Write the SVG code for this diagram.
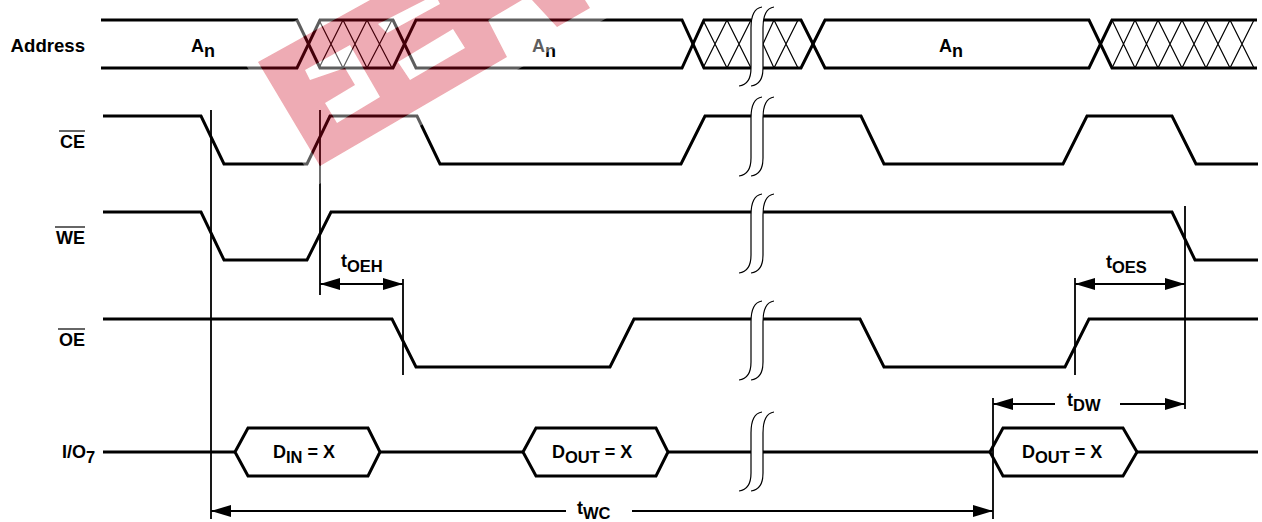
<svg xmlns="http://www.w3.org/2000/svg" width="1262" height="522" viewBox="0 0 1262 522">
<style>
text{font-family:"Liberation Sans",Arial,sans-serif;font-weight:700;font-size:18px;fill:#000}
.r{text-anchor:end}
.sub{font-size:16.5px}
.sig{fill:none;stroke:#000;stroke-width:3;stroke-linejoin:miter}
.hatch{fill:none;stroke:#000;stroke-width:1.2}
.hex{fill:#fff;stroke:#000;stroke-width:3}
.ref{fill:none;stroke:#000;stroke-width:1.8}
.arr{fill:none;stroke:#000;stroke-width:1.8;marker-end:url(#ah)}
.ov{stroke:#000;stroke-width:1.2}
.brkfill{fill:#fff;stroke:none}
.brk{fill:none;stroke:#000;stroke-width:1.2}
</style>
<defs>
<marker id="ah" markerUnits="userSpaceOnUse" markerWidth="20" markerHeight="14" refX="20" refY="6" orient="auto"><path d="M0 0L20 6L0 12Z" fill="#000"/></marker>
<filter id="soft" x="-5%" y="-5%" width="110%" height="110%"><feGaussianBlur stdDeviation="0.5"/></filter>
<g id="brk">
<path class="brkfill" d="M762 7C755 8 751 14 751 28V68C751 80 747 85 739 86H751C759 85 763 80 763 68V28C763 14 767 8 774 7Z"/>
<path class="brk" d="M762 7C755 8 751 14 751 28V68C751 80 747 85 739 86"/>
<path class="brk" d="M774 7C767 8 763 14 763 28V68C763 80 759 85 751 86"/>
</g>
</defs>
<rect width="1262" height="522" fill="#fff"/>

<g id="address">
<path class="hatch" d="M319 20L343 68M343 20L319 68M343 20L367 68M367 20L343 68M367 20L392 68M392 20L367 68"/>
<path class="hatch" d="M703 20L727 68M727 20L703 68M727 20L751 68M751 20L727 68M763 44L774 20M763 44L774 68M774 20L798 68M798 20L774 68"/>
<path class="hatch" d="M1112 20L1135 68M1135 20L1112 68M1135 20L1158 68M1158 20L1135 68M1158 20L1182 68M1182 20L1158 68M1182 20L1206 68M1206 20L1182 68M1206 20L1230 68M1230 20L1206 68M1230 20L1254 68M1254 20L1230 68"/>
<path class="sig" d="M101 20H297L320 68H393L416 20H682L704 68H801L825 20H1089L1112 68H1257"/>
<path class="sig" d="M101 68H297L320 20H393L416 68H682L704 20H801L825 68H1089L1112 20H1257"/>
<use href="#brk"/>
<text class="r" x="85" y="52" style="font-size:18.6px">Address</text>
<text x="191" y="52">A<tspan dy="5">n</tspan></text>
<text x="532" y="52">A<tspan dy="5">n</tspan></text>
<text x="939" y="52">A<tspan dy="5">n</tspan></text>
</g>

<g id="ce">
<path class="sig" d="M103 116H201L224 164H307L330 116H417L440 164H681L705 116H861L884 164H1063L1087 116H1172L1196 164H1258"/>
<use href="#brk" y="90"/>
<text class="r" x="85" y="148">CE</text>
<line class="ov" x1="59" y1="131" x2="85" y2="131"/>
</g>

<g id="we">
<path class="sig" d="M103 212H201L224 260H307L331 212H1172L1195 260H1258"/>
<use href="#brk" y="187"/>
<text class="r" x="85" y="244">WE</text>
<line class="ov" x1="55" y1="227" x2="85" y2="227"/>
</g>

<g id="oe">
<path class="sig" d="M103 319H392L416 367H610L634 319H860L884 367H1065L1089 319H1258"/>
<use href="#brk" y="294"/>
<text class="r" x="85" y="346">OE</text>
<line class="ov" x1="58" y1="329" x2="85" y2="329"/>
</g>

<g id="io7">
<path class="sig" d="M103 452H235M380 452H523M668 452H990M1137 452H1258"/>
<use href="#brk" y="405"/>
<text x="62" y="458">I/O<tspan dy="5" class="sub">7</tspan></text>
</g>
<g id="din">
<path class="hex" d="M235 452L248 428H368L380 452L368 476H248Z"/>
<text x="273" y="458">D<tspan dy="5" class="sub">IN</tspan><tspan dy="-5"> = X</tspan></text>
</g>
<g id="dout1">
<path class="hex" d="M523 452L536 428H656L668 452L656 476H536Z"/>
<text x="552" y="458">D<tspan dy="5" class="sub">OUT</tspan><tspan dy="-5"> = X</tspan></text>
</g>
<g id="dout2">
<path class="hex" d="M990 452L1003 428H1123L1137 452L1123 476H1003Z"/>
<text x="1022" y="458">D<tspan dy="5" class="sub">OUT</tspan><tspan dy="-5"> = X</tspan></text>
</g>

<g id="connectors">
<path class="ref" d="M211 110V519M320 110V295M403 279V375M1185 206V409M1075 278V375M993 398V519"/>
<path class="arr" d="M362 284H320"/><path class="arr" d="M362 284H403"/>
<path class="arr" d="M1130 284H1075"/><path class="arr" d="M1130 284H1185"/>
<path class="arr" d="M1055 404H993"/><path class="arr" d="M1120 404H1185"/>
<path class="arr" d="M566 511H211"/><path class="arr" d="M632 511H993"/>
<text x="341" y="267">t<tspan dy="5" class="sub">OEH</tspan></text>
<text x="1106" y="268">t<tspan dy="5" class="sub">OES</tspan></text>
<text x="1067" y="406">t<tspan dy="5" class="sub">DW</tspan></text>
<text x="577" y="514">t<tspan dy="4.5" class="sub">WC</tspan></text>
</g>

<g id="watermark" fill-rule="evenodd" filter="url(#soft)">
<path fill="#fff" fill-opacity="0.37" d="M239 53L316 186L638 0H331ZM258 62L320 166L507 57L488 20L522 0H370ZM305 70L350 45L380 97L337 123L325 103L355 85L345 68L310 80ZM378 24L425 0H438L440 4L387 33ZM398 62L453 29L465 48L410 80ZM532 0L557 27L590 8L585 0Z"/>
<path fill="#cc0012" fill-opacity="0.33" d="M258 62L320 166L507 57L488 20L522 0H370ZM305 70L350 45L380 97L337 123L325 103L355 85L345 68L310 80ZM378 24L425 0H438L440 4L387 33ZM398 62L453 29L465 48L410 80ZM532 0L557 27L590 8L585 0Z"/>
</g>
</svg>
